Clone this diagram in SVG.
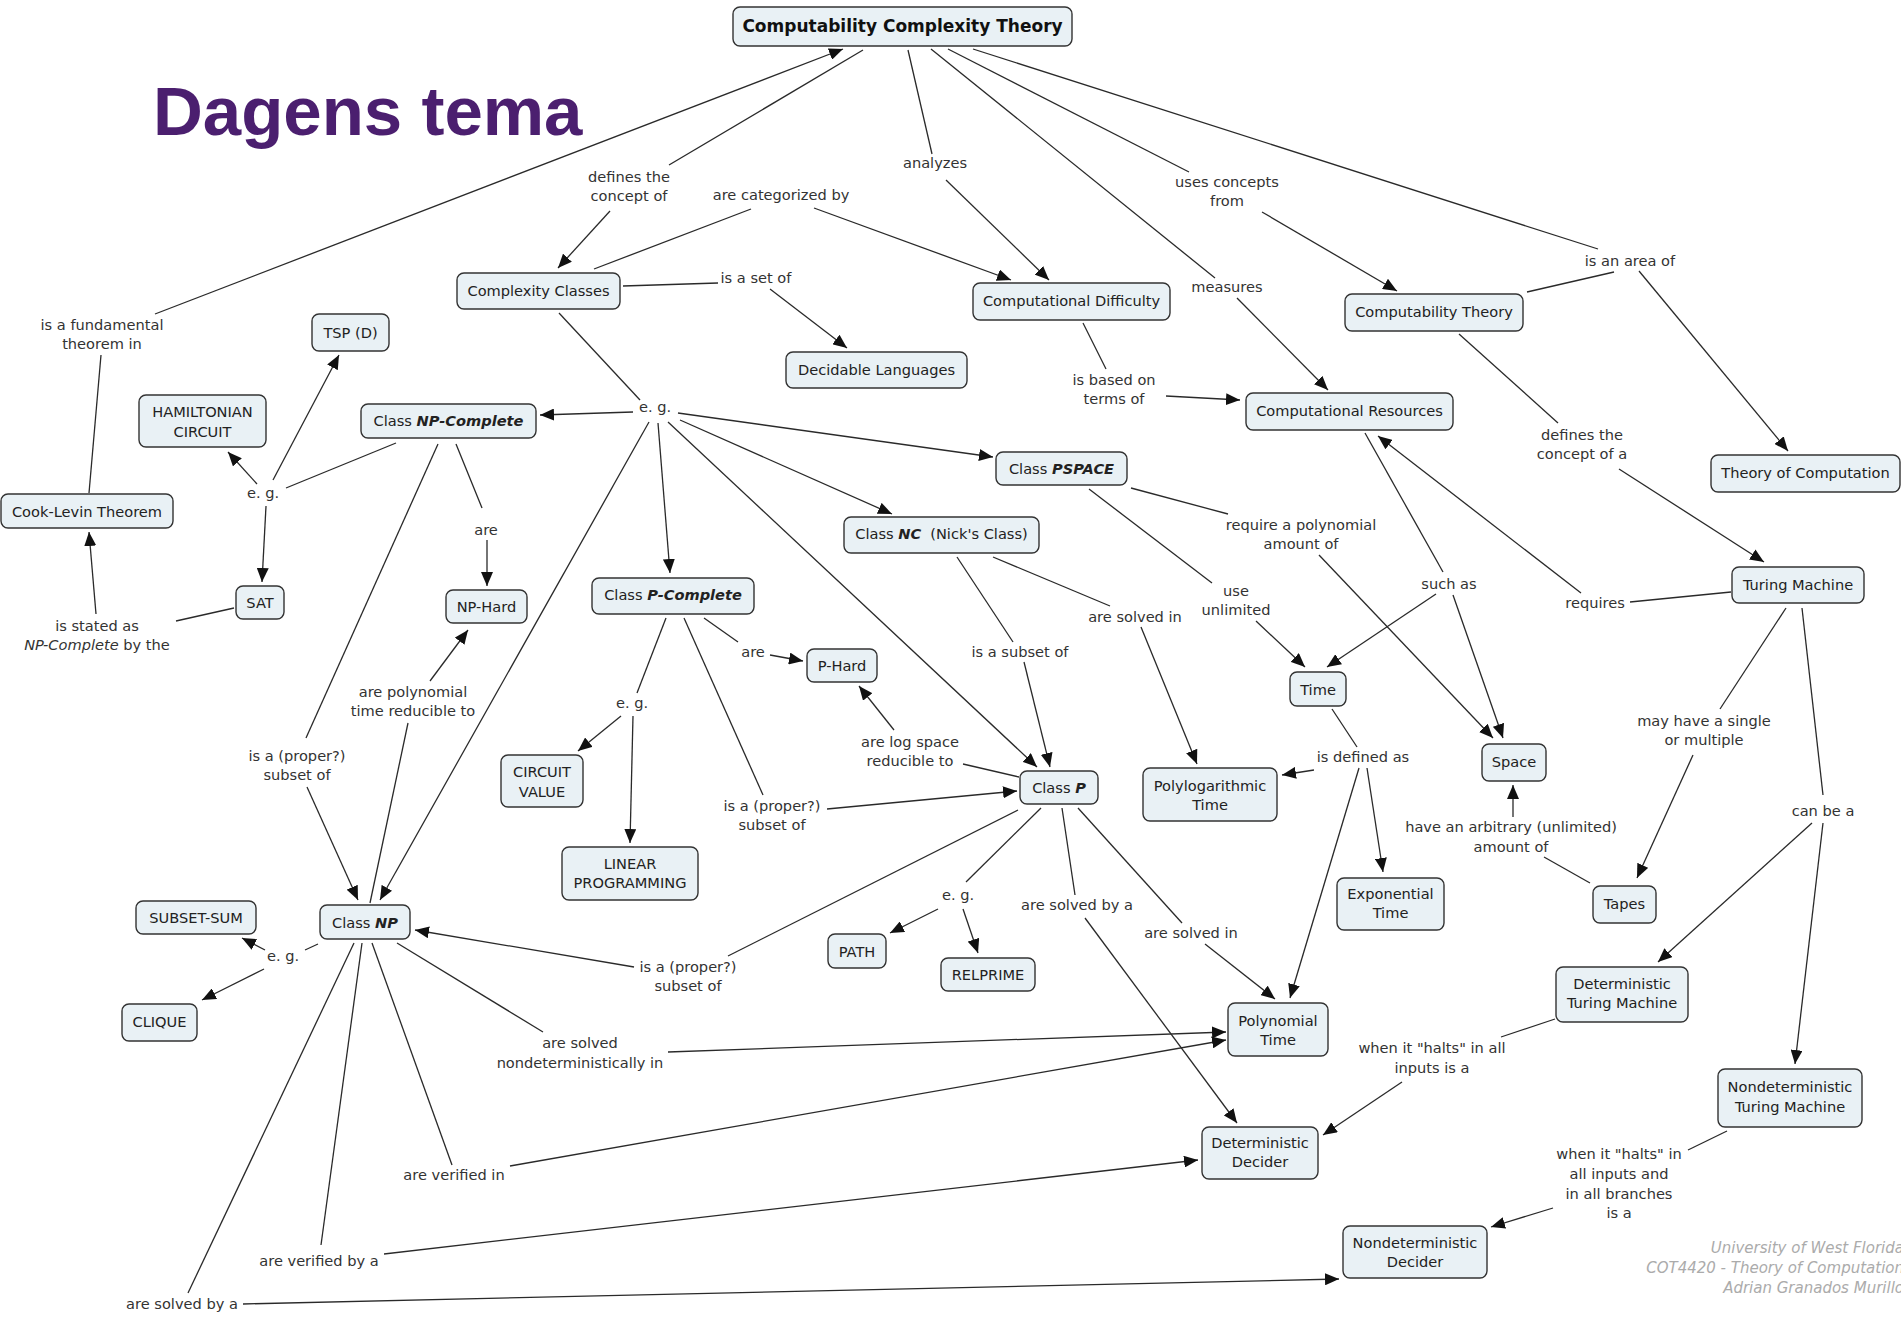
<svg xmlns="http://www.w3.org/2000/svg" width="1901" height="1319" viewBox="0 0 1901 1319">
<defs>
<style>
.n rect{fill:#e9f1f5;stroke:#333;stroke-width:1.4}
.n text{font-family:'DejaVu Sans',Verdana,sans-serif;font-size:14.6px;fill:#222;text-anchor:middle}
.n text.root{font-size:17px;font-weight:bold;fill:#111}
.l text{font-family:'DejaVu Sans',Verdana,sans-serif;font-size:14.6px;fill:#333;text-anchor:middle}
.bi{font-weight:bold;font-style:italic}
.c line{stroke:#2a2a2a;stroke-width:1.3}
.c line.a{marker-end:url(#ah)}
.credit{font-family:'DejaVu Sans',Verdana,sans-serif;font-size:15px;font-style:italic;fill:#ababab;text-anchor:end}
</style>
<marker id="ah" markerUnits="userSpaceOnUse" markerWidth="14" markerHeight="12" refX="14" refY="6" orient="auto">
<path d="M0,0 L14,6 L0,12 z" fill="#111"/>
</marker>
</defs>
<rect width="1901" height="1319" fill="#fff"/>

<text x="153" y="135" font-family="'Liberation Sans',Arial,sans-serif" font-weight="bold" font-size="69" fill="#4b1f6f">Dagens tema</text>

<!-- connectors: concept → linking phrase, and linking phrase → concept (arrowed) -->
<g id="connectors" class="c">
<line x1="101" y1="355" x2="89" y2="493"/>
<line class="a" x1="155" y1="314" x2="843" y2="49"/>
<line x1="863" y1="50" x2="669" y2="165"/>
<line class="a" x1="610" y1="211" x2="558" y2="268"/>
<line x1="594" y1="269" x2="751" y2="209"/>
<line class="a" x1="814" y1="208" x2="1011" y2="280"/>
<line x1="908" y1="50" x2="932" y2="154"/>
<line class="a" x1="946" y1="180" x2="1049" y2="280"/>
<line x1="623" y1="286" x2="718" y2="283"/>
<line class="a" x1="770" y1="289" x2="847" y2="348"/>
<line x1="931" y1="49" x2="1215" y2="278"/>
<line class="a" x1="1237" y1="298" x2="1328" y2="390"/>
<line x1="948" y1="49" x2="1189" y2="172"/>
<line class="a" x1="1262" y1="212" x2="1397" y2="291"/>
<line x1="973" y1="49" x2="1598" y2="249"/>
<line x1="1527" y1="292" x2="1614" y2="272"/>
<line class="a" x1="1639" y1="271" x2="1788" y2="451"/>
<line x1="1083" y1="323" x2="1106" y2="369"/>
<line class="a" x1="1166" y1="396" x2="1240" y2="400"/>
<line x1="1459" y1="334" x2="1558" y2="423"/>
<line class="a" x1="1619" y1="469" x2="1764" y2="562"/>
<line x1="1731" y1="592" x2="1630" y2="602"/>
<line class="a" x1="1581" y1="593" x2="1378" y2="436"/>
<line x1="1365" y1="433" x2="1443" y2="572"/>
<line class="a" x1="1436" y1="594" x2="1327" y2="667"/>
<line class="a" x1="1453" y1="595" x2="1503" y2="738"/>
<line x1="1131" y1="488" x2="1228" y2="514"/>
<line class="a" x1="1319" y1="555" x2="1493" y2="738"/>
<line x1="1089" y1="489" x2="1212" y2="583"/>
<line class="a" x1="1256" y1="621" x2="1305" y2="667"/>
<line x1="1332" y1="709" x2="1357" y2="747"/>
<line class="a" x1="1314" y1="770" x2="1282" y2="775"/>
<line class="a" x1="1367" y1="768" x2="1383" y2="872"/>
<line class="a" x1="1359" y1="768" x2="1290" y2="998"/>
<line x1="957" y1="557" x2="1013" y2="642"/>
<line class="a" x1="1024" y1="662" x2="1050" y2="767"/>
<line x1="993" y1="557" x2="1110" y2="606"/>
<line class="a" x1="1141" y1="627" x2="1197" y2="764"/>
<line x1="559" y1="313" x2="640" y2="400"/>
<line class="a" x1="633" y1="412" x2="540" y2="415"/>
<line class="a" x1="678" y1="413" x2="993" y2="457"/>
<line class="a" x1="680" y1="420" x2="892" y2="514"/>
<line class="a" x1="658" y1="423" x2="670" y2="573"/>
<line class="a" x1="668" y1="422" x2="1037" y2="767"/>
<line class="a" x1="649" y1="422" x2="380" y2="900"/>
<line x1="396" y1="443" x2="286" y2="488"/>
<line class="a" x1="273" y1="480" x2="339" y2="355"/>
<line class="a" x1="257" y1="484" x2="228" y2="452"/>
<line class="a" x1="266" y1="506" x2="262" y2="582"/>
<line x1="234" y1="608" x2="176" y2="621"/>
<line class="a" x1="96" y1="614" x2="89" y2="532"/>
<line x1="456" y1="444" x2="482" y2="508"/>
<line class="a" x1="487" y1="540" x2="487" y2="586"/>
<line x1="438" y1="444" x2="306" y2="738"/>
<line class="a" x1="307" y1="787" x2="358" y2="900"/>
<line x1="370" y1="903" x2="408" y2="723"/>
<line class="a" x1="430" y1="681" x2="468" y2="630"/>
<line x1="666" y1="618" x2="637" y2="693"/>
<line class="a" x1="621" y1="716" x2="578" y2="751"/>
<line class="a" x1="633" y1="716" x2="630" y2="843"/>
<line x1="704" y1="618" x2="738" y2="642"/>
<line class="a" x1="770" y1="655" x2="803" y2="661"/>
<line x1="684" y1="618" x2="763" y2="795"/>
<line class="a" x1="827" y1="809" x2="1017" y2="791"/>
<line x1="1019" y1="777" x2="963" y2="764"/>
<line class="a" x1="894" y1="730" x2="859" y2="686"/>
<line x1="1041" y1="808" x2="966" y2="882"/>
<line class="a" x1="938" y1="909" x2="890" y2="933"/>
<line class="a" x1="963" y1="909" x2="978" y2="953"/>
<line x1="1062" y1="808" x2="1075" y2="895"/>
<line class="a" x1="1085" y1="918" x2="1237" y2="1123"/>
<line x1="1078" y1="808" x2="1182" y2="923"/>
<line class="a" x1="1205" y1="944" x2="1275" y2="999"/>
<line x1="1018" y1="810" x2="728" y2="956"/>
<line class="a" x1="634" y1="967" x2="415" y2="930"/>
<line x1="318" y1="944" x2="305" y2="950"/>
<line class="a" x1="265" y1="950" x2="242" y2="938"/>
<line class="a" x1="264" y1="969" x2="202" y2="1000"/>
<line x1="397" y1="943" x2="543" y2="1032"/>
<line class="a" x1="668" y1="1052" x2="1226" y2="1032"/>
<line x1="372" y1="943" x2="452" y2="1165"/>
<line class="a" x1="510" y1="1166" x2="1226" y2="1040"/>
<line x1="362" y1="943" x2="321" y2="1245"/>
<line class="a" x1="384" y1="1254" x2="1198" y2="1160"/>
<line x1="354" y1="943" x2="188" y2="1293"/>
<line class="a" x1="243" y1="1304" x2="1339" y2="1279"/>
<line x1="1555" y1="1019" x2="1501" y2="1037"/>
<line class="a" x1="1402" y1="1082" x2="1323" y2="1135"/>
<line x1="1727" y1="1131" x2="1688" y2="1150"/>
<line class="a" x1="1553" y1="1208" x2="1491" y2="1227"/>
<line x1="1786" y1="608" x2="1720" y2="709"/>
<line class="a" x1="1693" y1="755" x2="1637" y2="878"/>
<line x1="1802" y1="608" x2="1823" y2="795"/>
<line class="a" x1="1812" y1="823" x2="1658" y2="962"/>
<line class="a" x1="1823" y1="823" x2="1795" y2="1064"/>
<line x1="1590" y1="883" x2="1544" y2="857"/>
<line class="a" x1="1513" y1="817" x2="1513" y2="785"/>
</g>

<!-- linking phrases -->
<g id="links" class="l">
<text x="102" y="330">is a fundamental</text><text x="102" y="349">theorem in</text>
<text x="629" y="182">defines the</text><text x="629" y="201">concept of</text>
<text x="781" y="200">are categorized by</text>
<text x="935" y="168">analyzes</text>
<text x="756" y="283">is a set of</text>
<text x="1227" y="187">uses concepts</text><text x="1227" y="206">from</text>
<text x="1227" y="292">measures</text>
<text x="1114" y="385">is based on</text><text x="1114" y="404">terms of</text>
<text x="1630" y="266">is an area of</text>
<text x="1582" y="440">defines the</text><text x="1582" y="459">concept of a</text>
<text x="1595" y="608">requires</text>
<text x="1449" y="589">such as</text>
<text x="1301" y="530">require a polynomial</text><text x="1301" y="549">amount of</text>
<text x="1236" y="596">use</text><text x="1236" y="615">unlimited</text>
<text x="1135" y="622">are solved in</text>
<text x="1020" y="657">is a subset of</text>
<text x="1363" y="762">is defined as</text>
<text x="1704" y="726">may have a single</text><text x="1704" y="745">or multiple</text>
<text x="1511" y="832">have an arbitrary (unlimited)</text><text x="1511" y="852">amount of</text>
<text x="1823" y="816">can be a</text>
<text x="655" y="412">e. g.</text>
<text x="263" y="498">e. g.</text>
<text x="97" y="631">is stated as</text><text x="97" y="650"><tspan font-style="italic">NP-Complete</tspan> by the</text>
<text x="486" y="535">are</text>
<text x="413" y="697">are polynomial</text><text x="413" y="716">time reducible to</text>
<text x="297" y="761">is a (proper?)</text><text x="297" y="780">subset of</text>
<text x="632" y="708">e. g.</text>
<text x="753" y="657">are</text>
<text x="772" y="811">is a (proper?)</text><text x="772" y="830">subset of</text>
<text x="910" y="747">are log space</text><text x="910" y="766">reducible to</text>
<text x="958" y="900">e. g.</text>
<text x="1077" y="910">are solved by a</text>
<text x="1191" y="938">are solved in</text>
<text x="688" y="972">is a (proper?)</text><text x="688" y="991">subset of</text>
<text x="283" y="961">e. g.</text>
<text x="580" y="1048">are solved</text><text x="580" y="1068">nondeterministically in</text>
<text x="454" y="1180">are verified in</text>
<text x="319" y="1266">are verified by a</text>
<text x="182" y="1309">are solved by a</text>
<text x="1432" y="1053">when it "halts" in all</text><text x="1432" y="1073">inputs is a</text>
<text x="1619" y="1159">when it "halts" in</text><text x="1619" y="1179">all inputs and</text><text x="1619" y="1199">in all branches</text><text x="1619" y="1218">is a</text>
</g>

<!-- concepts -->
<g id="n-cct" class="n"><rect x="733" y="7" width="339" height="39" rx="7"/><text class="root" x="902.5" y="32">Computability Complexity Theory</text></g>
<g id="n-complexity-classes" class="n"><rect x="457" y="273" width="163" height="36" rx="7"/><text x="538.5" y="296">Complexity Classes</text></g>
<g id="n-decidable" class="n"><rect x="786" y="352" width="181" height="36" rx="7"/><text x="876.5" y="375">Decidable Languages</text></g>
<g id="n-difficulty" class="n"><rect x="973" y="283" width="197" height="37" rx="7"/><text x="1071.5" y="306">Computational Difficulty</text></g>
<g id="n-resources" class="n"><rect x="1246" y="393" width="207" height="37" rx="7"/><text x="1349.5" y="416">Computational Resources</text></g>
<g id="n-computability" class="n"><rect x="1345" y="294" width="178" height="37" rx="7"/><text x="1434" y="317">Computability Theory</text></g>
<g id="n-toc" class="n"><rect x="1711" y="455" width="189" height="37" rx="7"/><text x="1805.5" y="478">Theory of Computation</text></g>
<g id="n-tm" class="n"><rect x="1732" y="567" width="132" height="36" rx="7"/><text x="1798" y="590">Turing Machine</text></g>
<g id="n-space" class="n"><rect x="1482" y="744" width="64" height="37" rx="7"/><text x="1514" y="767">Space</text></g>
<g id="n-tapes" class="n"><rect x="1593" y="886" width="63" height="37" rx="7"/><text x="1624.5" y="909">Tapes</text></g>
<g id="n-dtm" class="n"><rect x="1556" y="967" width="132" height="55" rx="7"/><text x="1622" y="989">Deterministic</text><text x="1622" y="1008">Turing Machine</text></g>
<g id="n-ntm" class="n"><rect x="1718" y="1069" width="144" height="58" rx="7"/><text x="1790" y="1092">Nondeterministic</text><text x="1790" y="1112">Turing Machine</text></g>
<g id="n-ndecider" class="n"><rect x="1343" y="1226" width="144" height="52" rx="7"/><text x="1415" y="1248">Nondeterministic</text><text x="1415" y="1267">Decider</text></g>
<g id="n-ddecider" class="n"><rect x="1202" y="1127" width="116" height="52" rx="7"/><text x="1260" y="1148">Deterministic</text><text x="1260" y="1167">Decider</text></g>
<g id="n-polytime" class="n"><rect x="1228" y="1003" width="100" height="53" rx="7"/><text x="1278" y="1026">Polynomial</text><text x="1278" y="1045">Time</text></g>
<g id="n-relprime" class="n"><rect x="941" y="958" width="94" height="33" rx="7"/><text x="988" y="980">RELPRIME</text></g>
<g id="n-exptime" class="n"><rect x="1337" y="878" width="107" height="52" rx="7"/><text x="1390.5" y="899">Exponential</text><text x="1390.5" y="918">Time</text></g>
<g id="n-path" class="n"><rect x="828" y="934" width="58" height="34" rx="7"/><text x="857" y="957">PATH</text></g>
<g id="n-lp" class="n"><rect x="562" y="847" width="136" height="53" rx="7"/><text x="630" y="869">LINEAR</text><text x="630" y="888">PROGRAMMING</text></g>
<g id="n-cv" class="n"><rect x="501" y="755" width="82" height="52" rx="7"/><text x="542" y="777">CIRCUIT</text><text x="542" y="797">VALUE</text></g>
<g id="n-pcomplete" class="n"><rect x="592" y="578" width="162" height="36" rx="7"/><text x="673" y="600">Class <tspan class="bi">P-Complete</tspan></text></g>
<g id="n-phard" class="n"><rect x="807" y="649" width="70" height="33" rx="7"/><text x="842" y="671">P-Hard</text></g>
<g id="n-nc" class="n"><rect x="844" y="517" width="195" height="36" rx="7"/><text x="941.5" y="539">Class <tspan class="bi">NC</tspan><tspan dx="9">(Nick's Class)</tspan></text></g>
<g id="n-pspace" class="n"><rect x="996" y="452" width="131" height="33" rx="7"/><text x="1061.5" y="474">Class <tspan class="bi">PSPACE</tspan></text></g>
<g id="n-p" class="n"><rect x="1020" y="771" width="78" height="33" rx="7"/><text x="1059" y="793">Class <tspan class="bi">P</tspan></text></g>
<g id="n-polylog" class="n"><rect x="1143" y="768" width="134" height="53" rx="7"/><text x="1210" y="791">Polylogarithmic</text><text x="1210" y="810">Time</text></g>
<g id="n-time" class="n"><rect x="1290" y="672" width="56" height="34" rx="7"/><text x="1318" y="695">Time</text></g>
<g id="n-nphard" class="n"><rect x="446" y="590" width="81" height="33" rx="7"/><text x="486.5" y="612">NP-Hard</text></g>
<g id="n-sat" class="n"><rect x="236" y="586" width="48" height="33" rx="7"/><text x="260" y="608">SAT</text></g>
<g id="n-cooklevin" class="n"><rect x="1" y="494" width="172" height="34" rx="7"/><text x="87" y="517">Cook-Levin Theorem</text></g>
<g id="n-np" class="n"><rect x="320" y="905" width="90" height="34" rx="7"/><text x="365" y="928">Class <tspan class="bi">NP</tspan></text></g>
<g id="n-subsetsum" class="n"><rect x="136" y="901" width="120" height="33" rx="7"/><text x="196" y="923">SUBSET-SUM</text></g>
<g id="n-clique" class="n"><rect x="122" y="1004" width="75" height="37" rx="7"/><text x="159.5" y="1027">CLIQUE</text></g>
<g id="n-tsp" class="n"><rect x="312" y="314" width="77" height="37" rx="7"/><text x="350.5" y="338">TSP (D)</text></g>
<g id="n-hamiltonian" class="n"><rect x="139" y="395" width="127" height="52" rx="7"/><text x="202.5" y="417">HAMILTONIAN</text><text x="202.5" y="437">CIRCUIT</text></g>
<g id="n-npcomplete" class="n"><rect x="361" y="404" width="175" height="34" rx="7"/><text x="448.5" y="426">Class <tspan class="bi">NP-Complete</tspan></text></g>

<g id="credits">
<text class="credit" x="1904" y="1253">University of West Florida</text>
<text class="credit" x="1904" y="1273">COT4420 - Theory of Computation</text>
<text class="credit" x="1904" y="1293">Adrian Granados Murillo</text>
</g>
</svg>
